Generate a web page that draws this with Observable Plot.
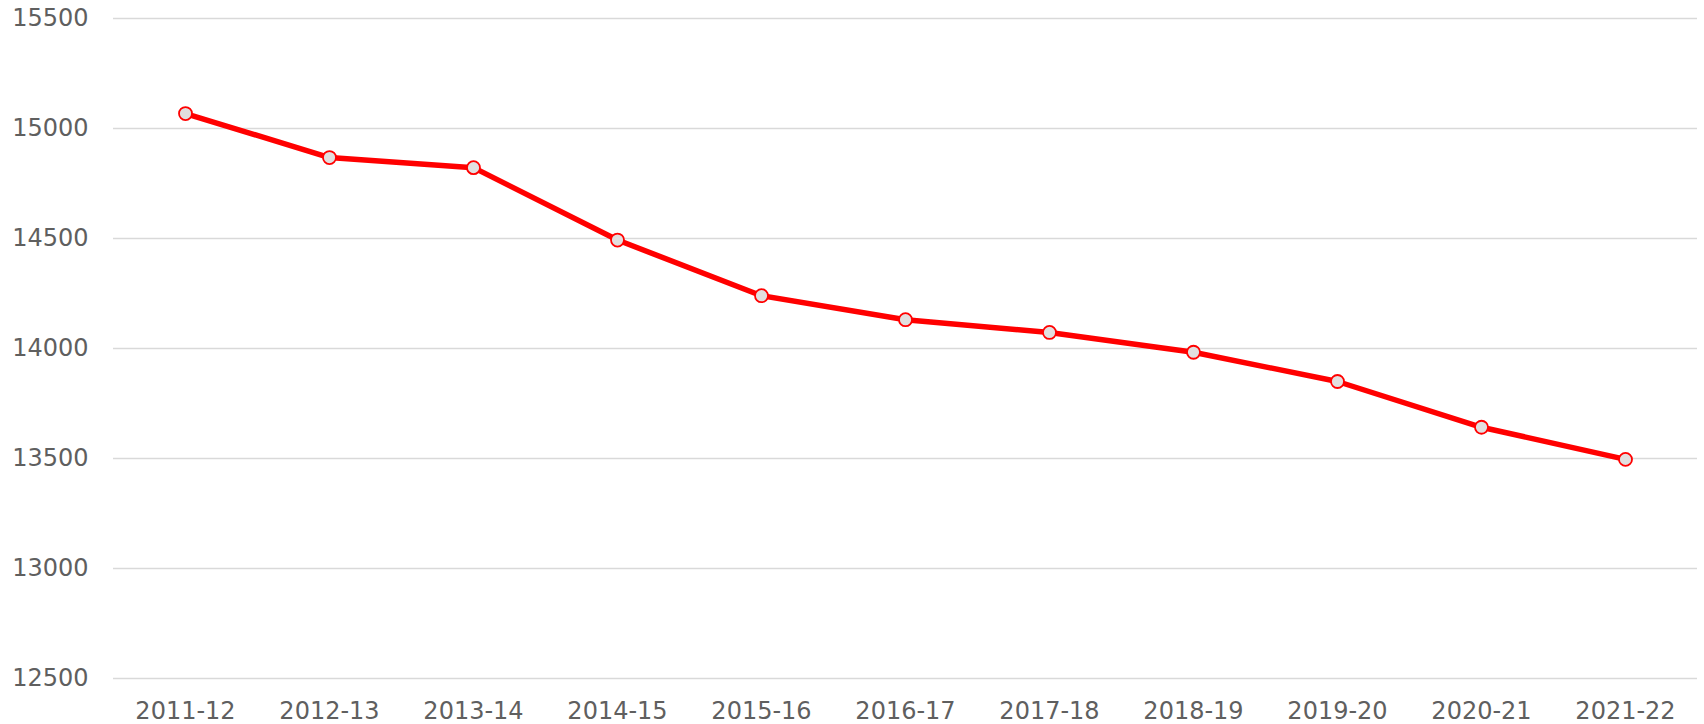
<!DOCTYPE html>
<html>
<head>
<meta charset="utf-8">
<script src="https://cdn.jsdelivr.net/npm/d3@7"></script>
<script src="https://cdn.jsdelivr.net/npm/@observablehq/plot@0.6"></script>
<style>
  html, body { margin: 0; padding: 0; background: #ffffff; }
  #chart svg { display: block; }
</style>
</head>
<body>
<div id="chart"></div>
<script>
const years = ["2011-12","2012-13","2013-14","2014-15","2015-16","2016-17","2017-18","2018-19","2019-20","2020-21","2021-22"];
const values = [15068, 14868, 14822, 14493, 14240, 14131, 14073, 13983, 13850, 13642, 13496];
const yTicks = [12500, 13000, 13500, 14000, 14500, 15000, 15500];

const data = years.map((year, i) => ({year, value: values[i]}));

const chart = Plot.plot({
  width: 1704,
  height: 724,
  marginLeft: 113,
  marginRight: 7,
  marginTop: 18,
  marginBottom: 46,
  style: {fontFamily: "'DejaVu Sans', Verdana, sans-serif", fontSize: "24px", color: "#5f5f5f", background: "#ffffff"},
  x: {type: "point", domain: years, padding: 0.5, label: null, tickSize: 0, tickPadding: 23},
  y: {domain: [12500, 15500], ticks: yTicks, label: null, tickSize: 0, tickPadding: 25, tickFormat: d => String(d)},
  marks: [
    Plot.ruleY(yTicks, {stroke: "#d9d9d9", strokeWidth: 1.5}),
    Plot.line(data, {x: "year", y: "value", stroke: "#ff0000", strokeWidth: 5.5, strokeLinejoin: "round", strokeLinecap: "round"}),
    Plot.dot(data, {x: "year", y: "value", r: 6.5, fill: "#e2dfdf", stroke: "#ff0000", strokeWidth: 1.8})
  ]
});
document.getElementById("chart").appendChild(chart);
</script>
</body>
</html>
